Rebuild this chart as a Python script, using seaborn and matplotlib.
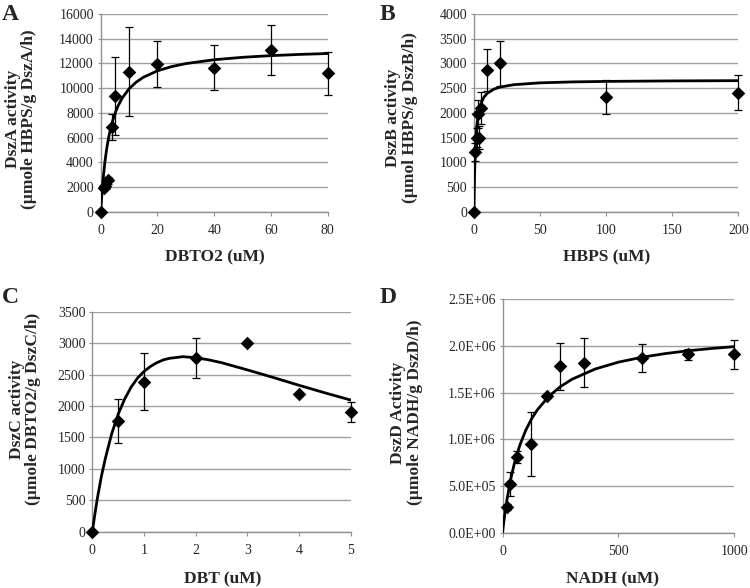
import matplotlib
matplotlib.use("Agg")
from matplotlib import pyplot as plt
from matplotlib.ticker import FuncFormatter
import seaborn as sns

# Panel A - DszA
dbto2_conc = [0, 1, 1.5, 2.5, 4, 5, 10, 20, 40, 60, 80]
dsza_act = [0, 1900, 2100, 2550, 6850, 9400, 11350, 11970, 11670, 13100, 11200]
dsza_err = [0, 150, 200, 300, 1050, 3150, 3580, 1870, 1850, 2050, 1740]
dsza_fit_x = [0, 0.25, 0.5, 0.75, 1, 1.5, 2, 2.5, 3, 4, 5, 6, 7.5, 10, 12.5, 15, 20, 25,
              30, 40, 50, 60, 70, 80]
dsza_fit_y = [0, 914, 1712, 2410, 3034, 4087, 4944, 5650, 6258, 7216, 7946, 8520, 9186,
              9963, 10490, 10883, 11410, 11750, 11991, 12304, 12500, 12634, 12732, 12806]

# Panel B - DszB
hbps_conc = [0, 1, 2, 3, 4, 5, 10, 20, 100, 200]
dszb_act = [0, 1200, 1500, 1980, 1500, 2100, 2870, 3000, 2320, 2410]
dszb_err = [0, 180, 200, 280, 230, 320, 420, 455, 345, 360]
dszb_fit_x = [0, 0.1, 0.25, 0.5, 1, 1.5, 2, 3, 4, 5, 7.5, 10, 15, 20, 30, 50, 75, 100, 150, 200]
dszb_fit_y = [0, 217, 483, 818, 1252, 1521, 1704, 1937, 2079, 2175, 2317, 2395, 2479,
              2523, 2569, 2607, 2626, 2636, 2646, 2651]

# Panel C - DszC
dbt_conc = [0, 0.5, 1, 2, 3, 4, 5]
dszc_act = [0, 1760, 2390, 2760, 3000, 2185, 1900]
dszc_err = [0, 355, 460, 320, 0, 0, 160]
dszc_fit_x = [0, 0.05, 0.1, 0.175, 0.25, 0.375, 0.5, 0.625, 0.75, 0.875, 1, 1.125, 1.25,
              1.375, 1.5, 1.75, 2, 2.25, 2.5, 3, 3.5, 4, 4.5, 5]
dszc_fit_y = [0, 284, 542, 880, 1160, 1560, 1870, 2110, 2300, 2445, 2550, 2630, 2690,
              2735, 2760, 2785, 2770, 2735, 2690, 2575, 2455, 2330, 2210, 2095]

# Panel D - DszD
nadh_conc = [20, 33, 63, 125, 190, 250, 350, 600, 800, 1000]
dszd_act = [2.75e5, 5.2e5, 8.1e5, 9.5e5, 1.46e6, 1.78e6, 1.82e6, 1.87e6, 1.91e6, 1.91e6]
dszd_err = [0.3e5, 1.3e5, 0.6e5, 3.45e5, 0.2e5, 2.5e5, 2.6e5, 1.5e5, 0.6e5, 1.55e5]
dszd_fit_x = [0, 5, 10, 20, 35, 50, 75, 100, 125, 150, 200, 250, 300, 400, 500, 600, 700,
              800, 900, 1000]
dszd_fit_y = [0, 1.04e5, 1.99e5, 3.65e5, 5.68e5, 7.30e5, 9.39e5, 1.095e6, 1.217e6, 1.314e6,
              1.46e6, 1.564e6, 1.6425e6, 1.752e6, 1.825e6, 1.877e6, 1.916e6, 1.947e6,
              1.971e6, 1.991e6]

sns.set_style("white")
plt.rcParams['font.family'] = ['Liberation Serif', 'DejaVu Serif']

fig = plt.figure(figsize=(7.5, 5.88), dpi=100)

panels = [
    dict(letter="A", pos=[0.1343, 0.6395, 0.3027, 0.3367], letter_xy=(0.003, 0.993),
         x=dbto2_conc, y=dsza_act, err=dsza_err, fx=dsza_fit_x, fy=dsza_fit_y,
         xlim=(0, 80), xticks=[0, 20, 40, 60, 80], ylim=(0, 16000),
         yticks=list(range(0, 16001, 2000)), fmt=None,
         xlabel="DBTO2 (uM)", ylabel="DszA activity\n(µmole HBPS/g DszA/h)",
         xl=(0.504, -0.227), yl=(-0.351, 0.47)),
    dict(letter="B", pos=[0.632, 0.64, 0.3524, 0.3362], letter_xy=(0.506, 0.993),
         x=hbps_conc, y=dszb_act, err=dszb_err, fx=dszb_fit_x, fy=dszb_fit_y,
         xlim=(0, 200), xticks=[0, 50, 100, 150, 200], ylim=(0, 4000),
         yticks=list(range(0, 4001, 500)), fmt=None,
         xlabel="HBPS (uM)", ylabel="DszB activity\n(µmol HBPS/g DszB/h)",
         xl=(0.502, -0.229), yl=(-0.274, 0.474)),
    dict(letter="C", pos=[0.1231, 0.0957, 0.3445, 0.3741], letter_xy=(0.003, 0.512),
         x=dbt_conc, y=dszc_act, err=dszc_err, fx=dszc_fit_x, fy=dszc_fit_y,
         xlim=(0, 5), xticks=[0, 1, 2, 3, 4, 5], ylim=(0, 3500),
         yticks=list(range(0, 3501, 500)), fmt=None,
         xlabel="DBT (uM)", ylabel="DszC activity\n(µmole DBTO2/g DszC/h)",
         xl=(0.504, -0.215), yl=(-0.26, 0.558)),
    dict(letter="D", pos=[0.67, 0.094, 0.3093, 0.3974], letter_xy=(0.506, 0.512),
         x=nadh_conc, y=dszd_act, err=dszd_err, fx=dszd_fit_x, fy=dszd_fit_y,
         xlim=(0, 1000), xticks=[0, 500, 1000], ylim=(0, 2.5e6),
         yticks=[0, 5e5, 1e6, 1.5e6, 2e6, 2.5e6], fmt="sci",
         xlabel="NADH (uM)", ylabel="DszD Activity\n(µmole NADH/g DszD/h)",
         xl=(0.474, -0.198), yl=(-0.414, 0.514)),
]

for p in panels:
    ax = fig.add_axes(p["pos"])
    sns.lineplot(x=p["fx"], y=p["fy"], ax=ax, color="black", lw=2.0,
                 estimator=None, sort=False, zorder=3)
    ax.errorbar(p["x"], p["y"], yerr=p["err"], fmt="none", ecolor="black",
                elinewidth=0.9, capsize=3, capthick=0.9, zorder=4, clip_on=False)
    sns.scatterplot(x=p["x"], y=p["y"], ax=ax, marker="D", s=48, color="black",
                    edgecolor="black", linewidth=0, zorder=5, clip_on=False)

    ax.set_xlim(*p["xlim"])
    ax.set_ylim(*p["ylim"])
    ax.set_xticks(p["xticks"])
    ax.set_yticks(p["yticks"])
    if p["fmt"] == "sci":
        ax.yaxis.set_major_formatter(FuncFormatter(lambda v, pos: f"{v:.1E}"))

    ax.grid(axis="y", color="#a0a0a0", lw=1.0)
    ax.grid(axis="x", visible=False)
    ax.set_axisbelow(True)
    for side in ["top", "right"]:
        ax.spines[side].set_visible(False)
    for side in ["left", "bottom"]:
        ax.spines[side].set_color("#909090")
        ax.spines[side].set_linewidth(1.0)

    ax.tick_params(axis="x", direction="out", length=3, width=0.8, color="#909090",
                   pad=6, labelsize=10, bottom=True)
    ax.tick_params(axis="y", direction="out", length=2, width=0.8, color="#909090",
                   pad=3, labelsize=10, left=True)

    ax.set_xlabel(p["xlabel"], fontsize=12.5, fontweight="bold", va="center")
    ax.xaxis.set_label_coords(*p["xl"])
    ax.set_ylabel(p["ylabel"], fontsize=12.5, fontweight="bold", va="center",
                  ha="center", linespacing=1.05)
    ax.yaxis.set_label_coords(*p["yl"])

    fig.text(p["letter_xy"][0], p["letter_xy"][1], p["letter"], fontsize=17,
             fontweight="bold", ha="left", va="top")

plt.savefig("out.png", dpi=100)
